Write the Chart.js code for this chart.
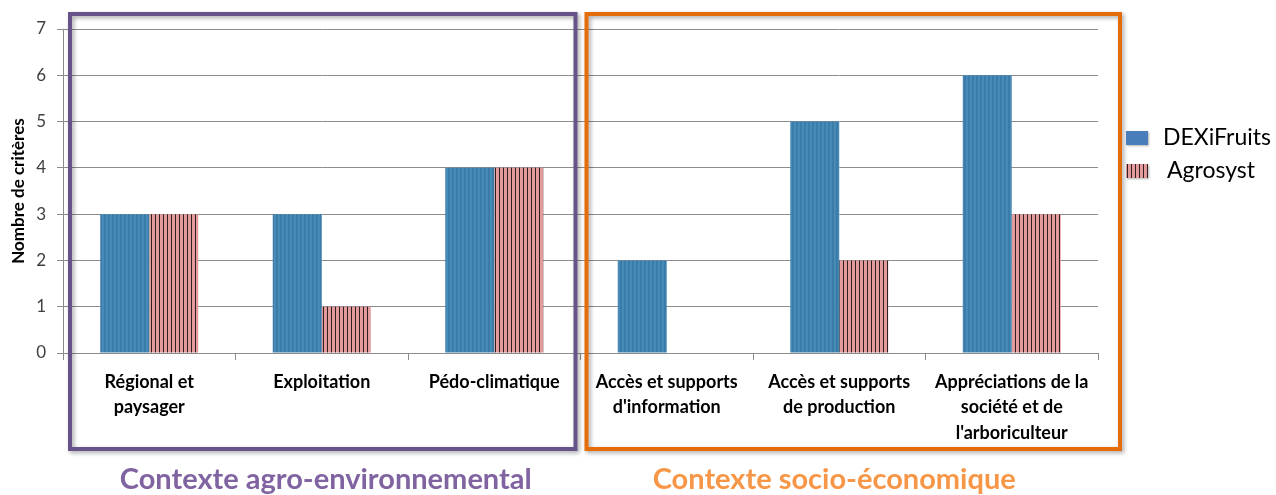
<!DOCTYPE html>
<html lang="fr">
<head>
<meta charset="utf-8">
<title>Nombre de critères par contexte</title>
<script src="https://cdn.jsdelivr.net/npm/chart.js@4.4.1/dist/chart.umd.min.js"></script>
<style>
  html, body { margin: 0; padding: 0; background: #fff; }
  #wrap { width: 1276px; height: 495px; }
</style>
</head>
<body>
<div id="wrap"><canvas id="chart" width="1276" height="495"></canvas></div>
<script>
// Critères par sous-contexte
const categories = [
  ["Régional et", "paysager"],
  ["Exploitation"],
  ["Pédo-climatique"],
  ["Accès et supports", "d'information"],
  ["Accès et supports", "de production"],
  ["Appréciations de la", "société et de", "l'arboriculteur"]
];
const dexiFruits = [3, 3, 4, 2, 5, 6];
const agrosyst = [3, 1, 4, 0, 2, 3];
const seriesNames = ["DEXiFruits", "Agrosyst"];
const yTicks = [0, 1, 2, 3, 4, 5, 6, 7];
const groupTitles = ["Contexte agro-environnemental", "Contexte socio-économique"];

const FONT = "Lato, 'Open Sans', sans-serif";

// Vertical-stripe fills
function stripes(colors) {
  const c = document.createElement('canvas');
  c.width = colors.length; c.height = 8;
  const g = c.getContext('2d');
  colors.forEach((col, i) => { g.fillStyle = col; g.fillRect(i, 0, 1, 8); });
  return g.createPattern(c, 'repeat');
}
const ctx = document.getElementById('chart').getContext('2d');
const bluePattern = stripes(['#3a7ba8', '#3b7caa', '#4a8cb9', '#4789b6']);
const pinkPattern = stripes(['#e49b9b', '#e59c9c', '#e29898', '#2e2023']);

// Two context frames, their titles and the legend
const decorations = {
  id: 'decorations',
  afterDraw(chart) {
    const c = chart.ctx;
    const a = chart.chartArea;
    const x = chart.scales.x;
    const mid = (x.getPixelForValue(2) + x.getPixelForValue(3)) / 2;
    const top = a.top - 15, bottom = a.bottom + 96;
    const frames = [
      { l: a.left + 7, r: mid - 5, col: '#65538a', title: groupTitles[0], tcol: '#8064a2', tx: x.getPixelForValue(1) + 4 },
      { l: mid + 6, r: a.right + 22, col: '#e46c0a', title: groupTitles[1], tcol: '#f79646', tx: x.getPixelForValue(4) - 5 }
    ];
    frames.forEach(f => {
      c.save();
      c.shadowColor = 'rgba(0,0,0,0.35)';
      c.shadowBlur = 4;
      c.shadowOffsetX = 2;
      c.shadowOffsetY = 2;
      c.strokeStyle = f.col;
      c.lineWidth = 4;
      c.strokeRect(f.l, top, f.r - f.l, bottom - top);
      c.restore();
      c.save();
      c.fillStyle = f.tcol;
      c.font = `bold 29px ${FONT}`;
      c.textAlign = 'center';
      c.textBaseline = 'alphabetic';
      c.fillText(f.title, f.tx, bottom + 40);
      c.restore();
    });

    // legend
    const lx = a.right + 28;
    const items = [
      { y: a.top + 109, fill: '#4a7ebb' },
      { y: a.top + 142, fill: pinkPattern }
    ];
    items.forEach((it, i) => {
      c.save();
      c.shadowColor = 'rgba(0,0,0,0.3)';
      c.shadowBlur = 2;
      c.shadowOffsetX = 1;
      c.shadowOffsetY = 1;
      c.fillStyle = it.fill;
      c.fillRect(lx, it.y - 7, 22, 14);
      c.restore();
      c.save();
      c.fillStyle = '#000';
      c.font = `23px ${FONT}`;
      c.textBaseline = 'middle';
      c.textAlign = 'left';
      c.fillText(seriesNames[i], lx + 37 + (i === 1 ? 4 : 0), it.y);
      c.restore();
    });
  }
};

new Chart(ctx, {
  type: 'bar',
  data: {
    labels: categories,
    datasets: [
      { label: seriesNames[0], data: dexiFruits, backgroundColor: bluePattern, borderWidth: 0 },
      { label: seriesNames[1], data: agrosyst, backgroundColor: pinkPattern, borderWidth: 0 }
    ]
  },
  options: {
    responsive: false,
    animation: false,
    devicePixelRatio: 1,
    categoryPercentage: 0.568,
    barPercentage: 1,
    layout: { padding: { left: 0, top: 29, right: 178, bottom: 0 } },
    plugins: {
      legend: { display: false },
      tooltip: { enabled: false }
    },
    scales: {
      x: {
        offset: true,
        grid: { display: true, offset: true, drawOnChartArea: false, drawTicks: true, tickLength: 7, color: '#8c8c8c' },
        border: { color: '#8c8c8c' },
        ticks: {
          font: { family: FONT, size: 18, weight: 'bold', lineHeight: 1.42 },
          color: '#000',
          padding: 9,
          maxRotation: 0,
          minRotation: 0,
          autoSkip: false
        },
        afterFit(s) { s.height = 142; }
      },
      y: {
        min: yTicks[0],
        max: yTicks[yTicks.length - 1],
        afterBuildTicks(s) { s.ticks = yTicks.map(v => ({ value: v })); },
        grid: { color: '#8c8c8c', tickLength: 6 },
        border: { color: '#8c8c8c' },
        ticks: { font: { family: FONT, size: 17 }, color: '#404040', padding: 11 },
        title: {
          display: true,
          text: 'Nombre de critères',
          font: { family: FONT, size: 17, weight: 'bold' },
          color: '#000',
          padding: { top: 8, bottom: 0 }
        },
        afterFit(s) { s.width = 63; }
      }
    }
  },
  plugins: [decorations]
});
</script>
</body>
</html>
